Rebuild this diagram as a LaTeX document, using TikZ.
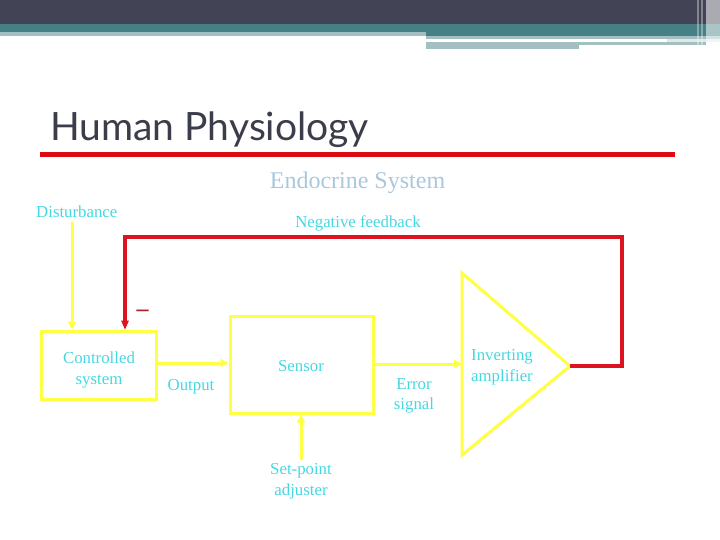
\documentclass[tikz,border=0pt]{standalone}
\usepackage{fontspec}
\setmainfont{Liberation Serif}
\newfontfamily\titlefont{Lato}
\usetikzlibrary{arrows.meta}
\definecolor{hdark}{HTML}{424456}
\definecolor{hteal}{HTML}{467F84}
\definecolor{hlight}{HTML}{A3BFC2}
\definecolor{hpale}{HTML}{DDE8EA}
\definecolor{ttl}{HTML}{3C3D4A}
\definecolor{rulered}{HTML}{DD0A12}
\definecolor{fbred}{HTML}{DD1420}
\definecolor{minusred}{HTML}{A02828}
\definecolor{ylw}{HTML}{FFFF44}
\definecolor{cyantxt}{HTML}{44D8E2}
\definecolor{subttl}{HTML}{A8C8DE}
\tikzset{
  x=1pt,y=-1pt,
  blockbox/.style={draw=ylw,line width=3pt,minimum width=#1,inner sep=0pt},
  lbl/.style={text=cyantxt,font=\fontsize{16.8}{20.5}\selectfont,align=center,inner sep=0pt},
  yline/.style={draw=ylw,line width=3pt,-{Triangle[length=8pt,width=8pt]}},
  rline/.style={draw=fbred,line width=3.2pt},
}
\begin{document}
\begin{tikzpicture}
\useasboundingbox (0,0) rectangle (720,540);
% header bands
\fill[hdark] (0,0) rectangle (720,24);
\fill[hteal] (0,24) rectangle (720,32);
\fill[hlight] (0,32) rectangle (426,36);
\fill[hteal] (426,32) rectangle (720,36);
\fill[hlight] (426,36) rectangle (720,39);
\fill[hlight] (426,42) rectangle (579,49);
\fill[hlight] (579,42) rectangle (706,45);
\fill[hpale] (667,39) rectangle (720,42);
\fill[white,opacity=0.55] (706,0) rectangle (720,48);
\fill[white,opacity=0.35] (697,0) rectangle (699,46);
\fill[white,opacity=0.35] (701,0) rectangle (702.5,46);
% title
\node[anchor=base west,inner sep=0pt,text=ttl,font=\titlefont\fontsize{39}{42}\selectfont] (title) at (50,141) {Human Physiology};
\fill[rulered] (40,152) rectangle (675,157.5);
\node[anchor=base,inner sep=0pt,text=subttl,font=\fontsize{24}{28}\selectfont] (sub) at (357.5,189) {Endocrine System};
% blocks
\node[blockbox=115pt,minimum height=68pt] (ctrl) at (98.5,365) {};
\node[blockbox=143pt,minimum height=97pt] (sens) at (301.5,364.5) {};
\coordinate (triTop) at (462,273);
\coordinate (triBot) at (462,455);
\coordinate (tip) at (570,366);
\coordinate (triIn) at (462,364);
\draw[draw=ylw,line width=3pt,line join=miter] (triTop) -- (tip) -- (triBot) -- cycle;
% labels
\node[lbl,anchor=base west] (dist) at (36,218) {Disturbance};
\node[lbl,anchor=base] (negfb) at (358,228) {Negative feedback};
\node[lbl] (ctrltxt) at (99,370) {Controlled\\system};
\node[lbl] (senstxt) at (301,366) {Sensor};
\node[lbl] (outtxt) at (191,387) {Output};
\node[lbl] (errtxt) at (414,396) {Error\\signal};
\node[lbl] (invtxt) at (502,367) {Inverting\\amplifier};
\node[lbl] (settxt) at (301,481) {Set-point\\adjuster};
\node[inner sep=0pt,text=minusred,font=\bfseries\fontsize{24}{26}\selectfont] (minus) at (142.5,313) {–};
% connectors
\coordinate (distTop) at (72,222);
\draw[yline] (distTop) -- (distTop |- ctrl.north);
\draw[yline] (ctrl.east |- 0,363) -- (sens.west |- 0,363);
\draw[yline] (sens.east |- 0,364) -- (triIn);
\coordinate (setBot) at (301,460);
\draw[yline] (setBot) -- (setBot |- sens.south);
\coordinate (fbA) at (622,237);
\coordinate (fbB) at (125,237);
\draw[rline,line join=miter] (tip) -- (fbA |- tip) -- (fbA) -- (fbB) -- ([yshift=6pt]fbB |- ctrl.north);
\fill[fbred] (fbB |- ctrl.north) -- ++(-4,-9) -- ++(8,0) -- cycle;
\end{tikzpicture}
\end{document}
